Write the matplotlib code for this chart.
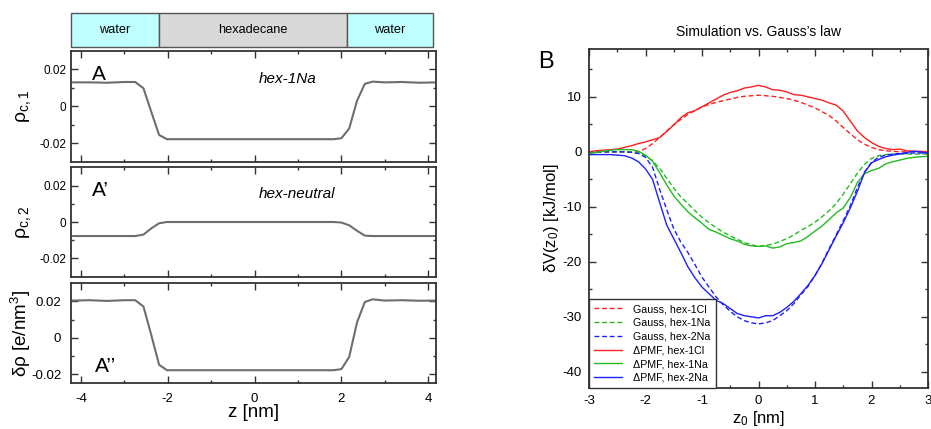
import matplotlib
matplotlib.use("Agg")
import matplotlib.pyplot as plt
from matplotlib.ticker import MultipleLocator, FixedLocator
from matplotlib.patches import Rectangle

plt.rcParams['font.family'] = ['Liberation Sans', 'DejaVu Sans']
plt.rcParams['mathtext.fontset'] = 'custom'
plt.rcParams['mathtext.rm'] = 'Liberation Sans'
plt.rcParams['mathtext.it'] = 'Liberation Sans:italic'
plt.rcParams['axes.unicode_minus'] = False

# ---------------- data: left panels ----------------
band_labels = ["water", "hexadecane", "water"]
band_edges = [-4.23, -2.2, 2.13, 4.11]

z_prof = [-4.2, -3.8, -3.4, -3.0, -2.75, -2.56, -2.38, -2.2, -2.02, -1.5, -1.0, -0.5, 0.0,
          0.5, 1.0, 1.5, 1.82, 2.0, 2.18, 2.36, 2.54, 2.72, 3.0, 3.4, 3.8, 4.2]
rho_c1 = [0.013, 0.013, 0.0128, 0.0132, 0.0132, 0.0098, -0.003, -0.0155, -0.0178, -0.0178, -0.0178,
          -0.0178, -0.0178, -0.0178, -0.0178, -0.0178, -0.0178, -0.0173, -0.012, 0.003, 0.0122,
          0.0134, 0.013, 0.0132, 0.0128, 0.013]
rho_c2 = [-0.0077, -0.0077, -0.0077, -0.0077, -0.0077, -0.0069, -0.0035, -0.0007, 0.0, 0.0, 0.0,
          0.0, 0.0, 0.0, 0.0, 0.0, 0.0, -0.0003, -0.0018, -0.0048, -0.0075, -0.0077, -0.0077,
          -0.0077, -0.0077, -0.0077]
d_rho = [0.0205, 0.0207, 0.0203, 0.0207, 0.0207, 0.0172, 0.0015, -0.0148, -0.0178, -0.0178, -0.0178,
         -0.0178, -0.0178, -0.0178, -0.0178, -0.0178, -0.0178, -0.0172, -0.0105, 0.0085, 0.0197,
         0.0212, 0.0205, 0.0207, 0.0204, 0.0205]

# ---------------- data: right panel ----------------
z0 = [-3.0, -2.875, -2.75, -2.625, -2.5, -2.375, -2.25, -2.125, -2.0, -1.875, -1.75, -1.625,
      -1.5, -1.375, -1.25, -1.125, -1.0, -0.875, -0.75, -0.625, -0.5, -0.375, -0.25, -0.125,
      0.0, 0.125, 0.25, 0.375, 0.5, 0.625, 0.75, 0.875, 1.0, 1.125, 1.25, 1.375, 1.5, 1.625,
      1.75, 1.875, 2.0, 2.125, 2.25, 2.375, 2.5, 2.625, 2.75, 2.875, 3.0]
gauss_1cl = [0, 0, 0, 0, 0, 0, 0, 0.0, 0.6, 1.5, 2.6, 3.8, 4.9, 5.9, 6.8, 7.5, 8.2, 8.6, 9.0, 9.3,
             9.6, 9.9, 10.1, 10.2, 10.3, 10.2, 10.1, 9.9, 9.7, 9.4, 9.0, 8.5, 8.0, 7.3, 6.6, 5.6,
             4.4, 3.3, 2.2, 1.4, 0.8, 0.4, 0.2, 0.1, 0.0, 0, 0, 0, 0]
pmf_1cl = [0.0, 0.2, 0.3, 0.4, 0.5, 0.8, 1.1, 1.5, 1.8, 2.2, 2.6, 3.7, 4.9, 6.2, 7.1, 7.5, 8.2,
           8.9, 9.6, 10.3, 10.8, 11.1, 11.6, 11.8, 12.1, 11.8, 11.3, 11.2, 10.9, 10.4, 10.3, 10.0,
           9.7, 9.4, 8.9, 8.5, 7.4, 5.6, 3.8, 2.6, 1.7, 1.0, 0.6, 0.4, 0.5, 0.2, 0.1, 0.1, 0.0]
gauss_1na = [0, 0, 0, 0, 0, 0, 0.0, -0.2, -0.7, -1.6, -3.0, -4.8, -6.6, -8.2, -9.4, -10.7, -11.9,
             -12.9, -13.8, -14.6, -15.3, -15.9, -16.5, -16.9, -17.2, -17.0, -16.8, -16.3, -15.8,
             -15.1, -14.3, -13.6, -12.8, -11.8, -10.7, -9.4, -7.7, -5.8, -3.9, -2.3, -1.2, -0.7,
             -0.5, -0.4, -0.4, -0.4, -0.4, -0.4, -0.4]
pmf_1na = [-0.3, -0.1, 0.1, 0.3, 0.4, 0.4, 0.4, 0.1, -0.6, -1.7, -3.8, -6.0, -8.0, -9.5, -10.9,
           -12.0, -13.0, -14.1, -14.6, -15.2, -15.8, -16.2, -16.8, -17.1, -17.2, -17.1, -17.5,
           -17.3, -16.7, -16.5, -16.2, -15.4, -14.4, -13.5, -12.3, -11.1, -10.2, -8.3, -5.6, -4.0,
           -3.4, -3.0, -2.2, -1.8, -1.5, -1.2, -1.0, -0.9, -0.8]
gauss_2na = [0, 0, 0, 0, 0, 0, -0.1, -0.3, -1.0, -2.8, -6.8, -10.5, -14.0, -16.4, -18.3, -20.5,
             -22.8, -24.6, -26.4, -27.8, -29.0, -30.0, -30.7, -31.1, -31.3, -31.1, -30.7, -29.8,
             -28.9, -27.6, -26.0, -24.5, -22.5, -20.2, -17.6, -15.1, -12.5, -9.8, -6.5, -3.7, -1.9,
             -1.0, -0.6, -0.4, -0.3, -0.3, -0.2, -0.2, -0.2]
pmf_2na = [-0.5, -0.5, -0.5, -0.5, -0.6, -0.7, -1.1, -1.8, -3.1, -5.0, -9.2, -13.3, -15.8, -18.3,
           -20.9, -22.9, -24.6, -25.8, -27.0, -27.6, -28.5, -29.4, -29.8, -30.0, -30.2, -29.8,
           -29.8, -29.2, -28.3, -27.2, -25.8, -24.3, -22.5, -20.3, -17.8, -15.3, -12.9, -10.2,
           -7.2, -3.8, -2.0, -1.4, -0.9, -0.6, -0.4, -0.1, 0.1, 0.0, -0.3]

W, H = 931, 429
fig = plt.figure(figsize=(W / 100, H / 100), dpi=100)


def px_axes(l, t, r, b):
    return fig.add_axes([l / W, 1 - b / H, (r - l) / W, (b - t) / H])


def style_axes(ax):
    for s in ax.spines.values():
        s.set_linewidth(1.3)
        s.set_color('#333333')
    ax.tick_params(which='both', direction='in', top=True, right=True, color='#333333',
                   labelsize=8.5, width=1.0)
    ax.tick_params(which='major', length=5)
    ax.tick_params(which='minor', length=2.5)


XL = (-4.23, 4.18)
line_col = '#6e6e6e'

# band
axb = px_axes(71, 13.3, 436, 47.3)
axb.set_xlim(XL)
axb.set_ylim(0, 1)
axb.axis('off')
band_cols = ['#bfffff', '#d9d9d9', '#bfffff']
for i, lab in enumerate(band_labels):
    x0, x1 = band_edges[i], band_edges[i + 1]
    axb.add_patch(Rectangle((x0, 0), x1 - x0, 1, facecolor=band_cols[i], edgecolor='#555555',
                            linewidth=1.0, clip_on=False))
    axb.text((x0 + x1) / 2, 0.5, lab, ha='center', va='center', fontsize=9.2)

panels = [
    (51, 161.7, rho_c1, (-0.03, 0.03), r'ρ$_{\mathrm{c,1}}$'),
    (167.3, 276.7, rho_c2, (-0.03, 0.03), r'ρ$_{\mathrm{c,2}}$'),
    (283.3, 383.3, d_rho, (-0.025, 0.03), r'δρ [e/nm$^{3}$]'),
]
axes_left = []
for k, (t, b, vals, yl, lab) in enumerate(panels):
    ax = px_axes(71, t, 436, b)
    ax.plot(z_prof, vals, color=line_col, lw=1.5)
    ax.set_xlim(XL)
    ax.set_ylim(yl)
    ax.xaxis.set_major_locator(MultipleLocator(2))
    ax.xaxis.set_minor_locator(MultipleLocator(1))
    ax.yaxis.set_major_locator(FixedLocator([-0.02, 0, 0.02]))
    ax.yaxis.set_minor_locator(FixedLocator([-0.01, 0.01]))
    ax.set_yticklabels(['-0.02', '0', '0.02'])
    style_axes(ax)
    if k < 2:
        ax.tick_params(labelbottom=False)
    ax.set_ylabel(lab, fontsize=14 if k < 2 else 13.5)
    ax.yaxis.set_label_coords(-0.105, 0.5)
    axes_left.append(ax)

axA, axA1, axA2 = axes_left
axA.text(-3.75, 0.0145, 'A', fontsize=15)
axA.text(0.75, 0.0129, 'hex-1Na', fontsize=11, style='italic', ha='center')
axA1.text(-3.75, 0.0145, 'A’', fontsize=15)
axA1.text(0.98, 0.013, 'hex-neutral', fontsize=11, style='italic', ha='center')
axA2.text(-3.68, -0.019, 'A’’', fontsize=15)
axA2.set_xticks([-4, -2, 0, 2, 4])
axA2.set_xticklabels(['-4', '-2', '0', '2', '4'])
axA2.tick_params(labelsize=9.5, pad=7)
axA2.set_xlabel('z [nm]', fontsize=13.5, labelpad=-1)

# right panel
axR = px_axes(589, 49, 928, 388.3)
dash = (0, (3.5, 2))
axR.plot(z0, gauss_1cl, color='#ff2020', lw=1.0, ls=dash, label='Gauss, hex-1Cl')
axR.plot(z0, gauss_1na, color='#22bb22', lw=1.0, ls=dash, label='Gauss, hex-1Na')
axR.plot(z0, gauss_2na, color='#2020ff', lw=1.0, ls=dash, label='Gauss, hex-2Na')
axR.plot(z0, pmf_1cl, color='#ff2020', lw=1.0, label='ΔPMF, hex-1Cl')
axR.plot(z0, pmf_1na, color='#22bb22', lw=1.0, label='ΔPMF, hex-1Na')
axR.plot(z0, pmf_2na, color='#2020ff', lw=1.0, label='ΔPMF, hex-2Na')
axR.set_xlim(-3, 3)
axR.set_ylim(-43, 18.7)
axR.xaxis.set_major_locator(MultipleLocator(1))
axR.xaxis.set_minor_locator(MultipleLocator(0.5))
axR.yaxis.set_major_locator(MultipleLocator(10))
axR.yaxis.set_minor_locator(MultipleLocator(5))
style_axes(axR)
axR.tick_params(labelsize=9.5, pad=5)
axR.set_title('Simulation vs. Gauss’s law', fontsize=10, pad=9)
axR.set_ylabel(r'δV(z$_{0}$) [kJ/mol]', fontsize=12)
axR.yaxis.set_label_coords(-0.083, 0.5)
axR.set_xlabel(r'z$_{0}$ [nm]', fontsize=12, labelpad=1)
leg = axR.legend(loc='lower left', fontsize=7.7, borderaxespad=0, fancybox=False,
                 framealpha=1, edgecolor='#333333', handlelength=2.6, handletextpad=1.0,
                 labelspacing=0.35, borderpad=0.5)
leg.get_frame().set_linewidth(1.0)

fig.text(538 / W, 1 - 68 / H, 'B', fontsize=17)

fig.savefig('out.png', dpi=100)
